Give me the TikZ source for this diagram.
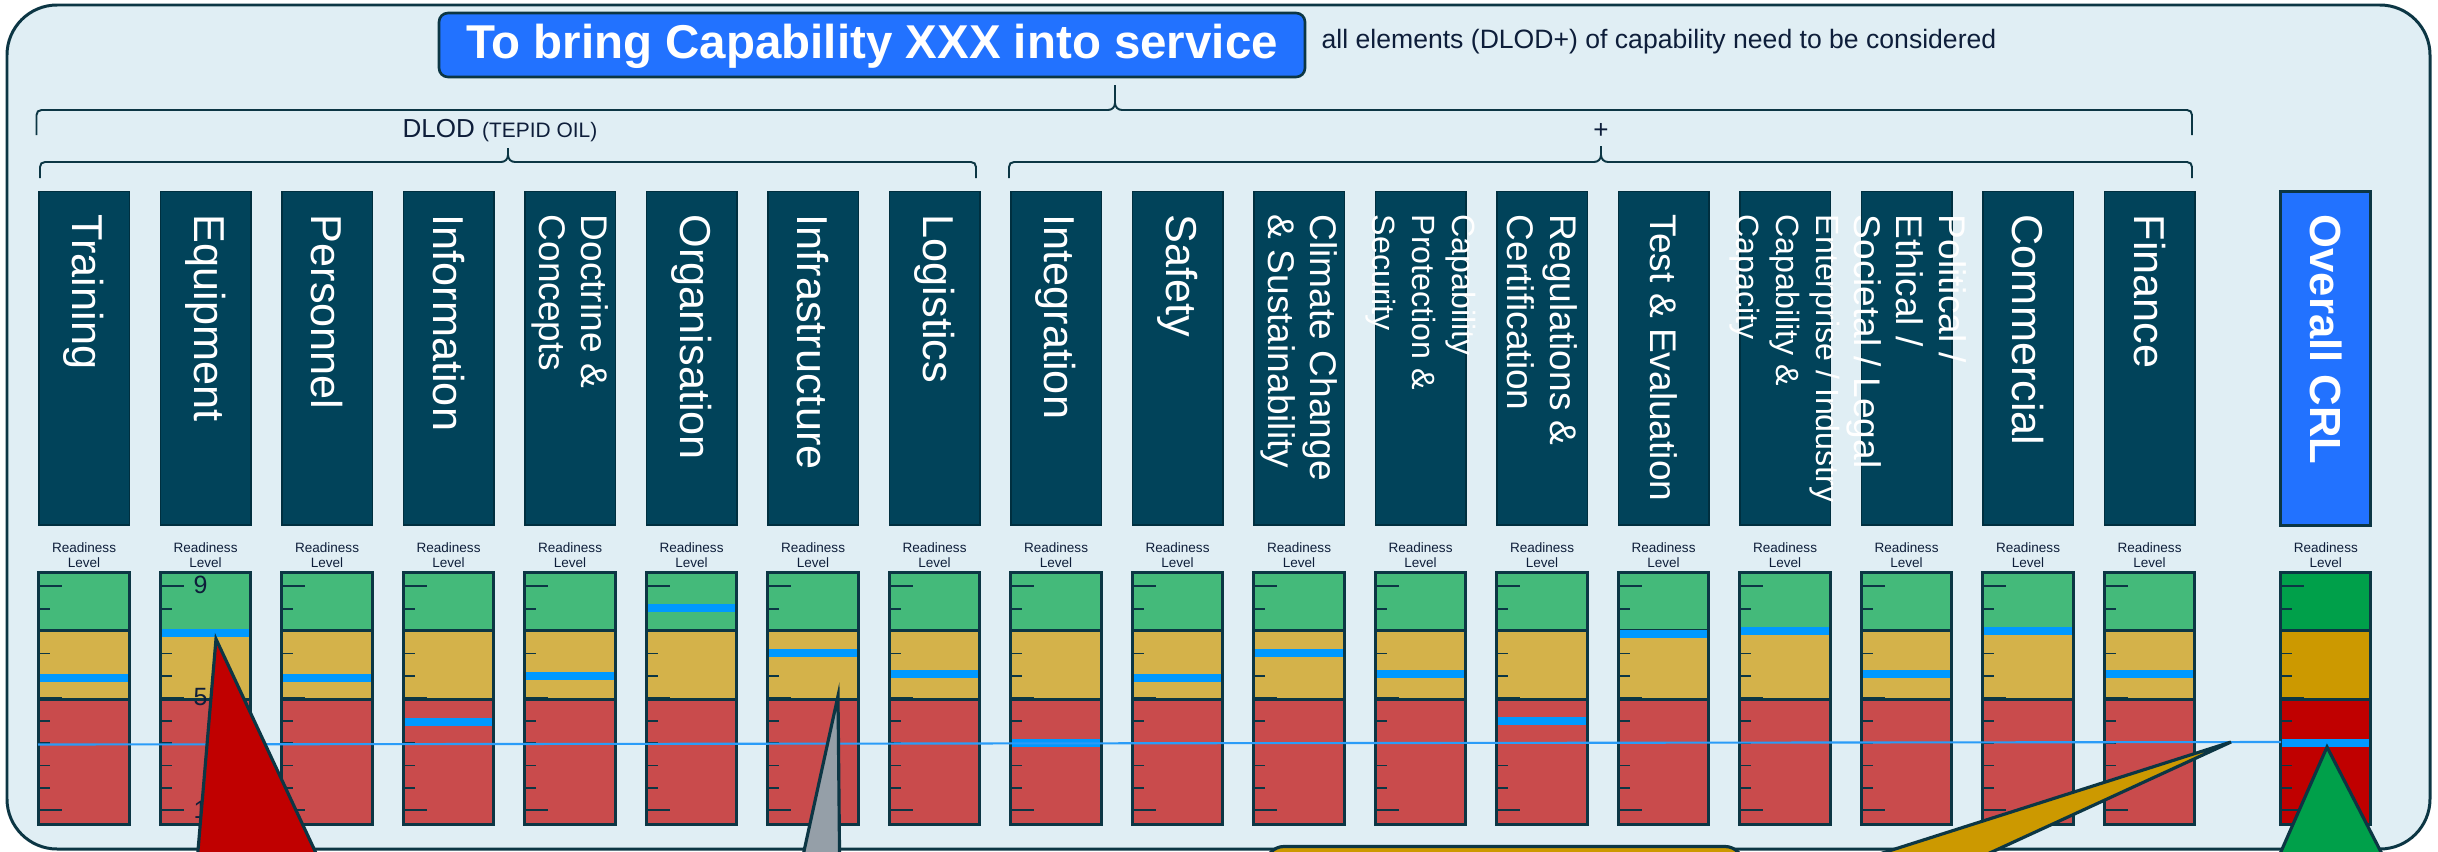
\documentclass[tikz,border=0pt]{standalone}
\usepackage{fontspec}
\setmainfont{Liberation Sans}
\definecolor{bgfill}{HTML}{E0EEF4}
\definecolor{frame}{HTML}{0C3644}
\definecolor{barfill}{HTML}{01435A}
\definecolor{barline}{HTML}{002F3F}
\definecolor{crlblue}{HTML}{2272FF}
\definecolor{zoneG}{HTML}{44BA7A}
\definecolor{zoneY}{HTML}{D4B24A}
\definecolor{zoneR}{HTML}{C94B4C}
\definecolor{crlG}{HTML}{00A04A}
\definecolor{crlY}{HTML}{CC9900}
\definecolor{crlR}{HTML}{C00000}
\definecolor{levelblue}{HTML}{0099FF}
\definecolor{trendblue}{HTML}{2A9CF8}
\definecolor{inkdark}{HTML}{0E1E3A}
\definecolor{calloutgrey}{HTML}{959FA8}

% horizontal curly brace: x1, x2, tip x, line y, end y, tip y
\newcommand\curlybrace[6]{%
  \draw[bracepen] (#1,#5) -- (#1,#4+5) .. controls (#1,#4+2) and (#1+2,#4) .. (#1+5,#4)
    -- (#3-7,#4) .. controls (#3-3,#4) and (#3,#4-3) .. (#3,#4-7) -- (#3,#6)
    (#3,#4-7) .. controls (#3,#4-3) and (#3+3,#4) .. (#3+7,#4)
    -- (#2-5,#4) .. controls (#2-2,#4) and (#2,#4+2) .. (#2,#4+5) -- (#2,#5);
}

\tikzset{
  bracepen/.style={draw=frame, line width=0.55pt},
  barbox/.style={draw=barline, line width=0.45pt, fill=barfill},
  zonebox/.style={draw=frame, line width=0.9pt},
  tickmark/.style={draw=frame, line width=0.5pt},
  bartext/.style={rotate=-90, anchor=west, inner sep=0pt, align=left, text=white},
  rlabel/.style={align=center, inner sep=0pt, text=inkdark, font=\fontsize{3.85}{4.3}\selectfont},
  calloutpen/.style={draw=frame, line width=0.9pt, line join=miter},
}

\begin{document}
\begin{tikzpicture}[x=0.01cm,y=-0.01cm]
\useasboundingbox (0,0) rectangle (2438,851);
\clip (0,0) rectangle (2438,851);

% outer panel
\draw[draw=frame, line width=0.85pt, fill=bgfill, rounded corners=0.5cm] (7,5) rectangle (2430,849);

% heading
\draw[draw=frame, line width=0.75pt, fill=crlblue, rounded corners=0.09cm] (439,13) rectangle (1305,77);
\node[anchor=base, inner sep=0pt, text=white, font=\fontsize{13.5}{16}\selectfont\bfseries] (title) at (872,58.3) {To bring Capability XXX into service};
\node[anchor=base west, inner sep=0pt, text=inkdark, font=\fontsize{7.56}{9}\selectfont] (note) at (1321,48.5) {all elements (DLOD+) of capability need to be considered};

% grouping braces
\curlybrace{36.5}{2192}{1115}{110}{135}{85}
\curlybrace{40}{976}{508}{162}{178}{148}
\curlybrace{1009}{2192}{1601}{162}{178}{146}
\node[anchor=base west, inner sep=0pt, text=inkdark, font=\fontsize{7.4}{9}\selectfont] (dlod) at (402,137.3) {DLOD {\fontsize{5.95}{7}\selectfont (TEPID OIL)}};
\node[inner sep=0pt, text=inkdark, font=\fontsize{7.4}{9}\selectfont] (plus) at (1601,130.5) {+};

% capability elements with their readiness gauges
\foreach \i/\txt/\fs/\bl/\lvl in {
  1/Training/12.3/14.6/677.7,
  2/Equipment/12.3/14.6/633,
  3/Personnel/12.3/14.6/677.7,
  4/Information/12.3/14.6/721.7,
  5/{Doctrine \&\\Concepts}/10.55/12.1/675.7,
  6/Organisation/12.3/14.6/608.3,
  7/Infrastructure/12.3/14.6/653.3,
  8/Logistics/12.3/14.6/674.3,
  9/Integration/12.3/14.6/743.3,
  10/Safety/12.3/14.6/677.7,
  11/{Climate Change\\\& Sustainability}/10.55/12.1/652.7,
  12/{Capability\\Protection \&\\Security}/9.15/11.4/674.3,
  13/{Regulations \&\\Certification}/10.55/12.1/721.3,
  14/{Test \& Evaluation}/10.55/12.1/633.7,
  15/{Enterprise / Industry\\Capability \&\\Capacity}/9.15/11.4/631,
  16/{Political /\\Ethical /\\Societal / Legal}/10.55/12.1/674.3,
  17/Commercial/12.3/14.6/631,
  18/Finance/12.3/14.6/674.3}{
  \pgfmathsetmacro\xl{38.8+121.5*(\i-1)}
  \pgfmathsetmacro\xr{\xl+90.5}
  \pgfmathsetmacro\xc{\xl+45.25}
  \draw[barbox] (\xl,191.7) rectangle (\xr,525);
  \node[bartext, font=\fontsize{\fs}{\bl}\selectfont] (dim\i) at (\xc,214) {\txt};
  \node[rlabel] (rl\i) at (\xc,555) {Readiness\\Level};
  \draw[zonebox, fill=zoneG] (\xl,572.7) rectangle (\xr,630.7);
  \draw[zonebox, fill=zoneY] (\xl,630.7) rectangle (\xr,699.3);
  \draw[zonebox, fill=zoneR] (\xl,699.3) rectangle (\xr,824.3);
  \foreach \k in {0,2,5,10}{\draw[tickmark] (\xl+1.5,586.3+22.4*\k) -- ++(22,0);}
  \foreach \k in {1,3,4,6,7,8,9}{\draw[tickmark] (\xl+1.5,586.3+22.4*\k) -- ++(10,0);}
  \fill[levelblue] (\xl+1.5,\lvl-4) rectangle (\xr-1.5,\lvl+4);
}

% overall capability readiness level
\draw[draw=frame, line width=0.85pt, fill=crlblue] (2280.8,191.7) rectangle (2370.8,525);
\node[bartext, font=\fontsize{12.4}{14}\selectfont\bfseries] (crl) at (2325.8,214) {Overall CRL};
\node[rlabel] (rlcrl) at (2325.8,555) {Readiness\\Level};
\draw[zonebox, fill=crlG] (2280.8,572.7) rectangle (2370.8,630.7);
\draw[zonebox, fill=crlY] (2280.8,630.7) rectangle (2370.8,699.3);
\draw[zonebox, fill=crlR] (2280.8,699.3) rectangle (2370.8,824.3);
\foreach \k in {0,2,5,10}{\draw[tickmark] (2282.3,586.3+22.4*\k) -- ++(22,0);}
\foreach \k in {1,3,4,6,7,8,9}{\draw[tickmark] (2282.3,586.3+22.4*\k) -- ++(10,0);}
\fill[levelblue] (2282.3,738.7) rectangle (2369.3,746.7);

% scale numbers
\node[inner sep=0pt, text=inkdark, font=\fontsize{7.1}{8}\selectfont] (n9) at (200.5,585) {9};
\node[inner sep=0pt, text=inkdark, font=\fontsize{7.1}{8}\selectfont] (n5) at (200.5,697) {5};
\node[inner sep=0pt, text=inkdark, font=\fontsize{7.1}{8}\selectfont] (n1) at (200.5,809.5) {1};

% lowest-level trend line
\coordinate (trendA) at (38,744.5);
\coordinate (trendB) at (2281,742);
\draw[trendblue, line width=0.6pt] (trendA) -- (trendB);

% callout pointers
\draw[calloutpen, fill=crlR] (216,639) -- (193.8,900) -- (337.9,900) -- cycle;
\draw[calloutpen, fill=calloutgrey] (838,696) -- (793.3,900) -- (840,900) -- cycle;
\draw[calloutpen, fill=crlY, rounded corners=0.18cm] (1266,846.5) rectangle (1743,960);
\draw[calloutpen, fill=crlY] (2231,742) -- (1735,900) -- (1887.5,900) -- cycle;
\draw[calloutpen, fill=crlG] (2327,747) -- (2259.7,900) -- (2405.7,900) -- cycle;
\end{tikzpicture}
\end{document}
